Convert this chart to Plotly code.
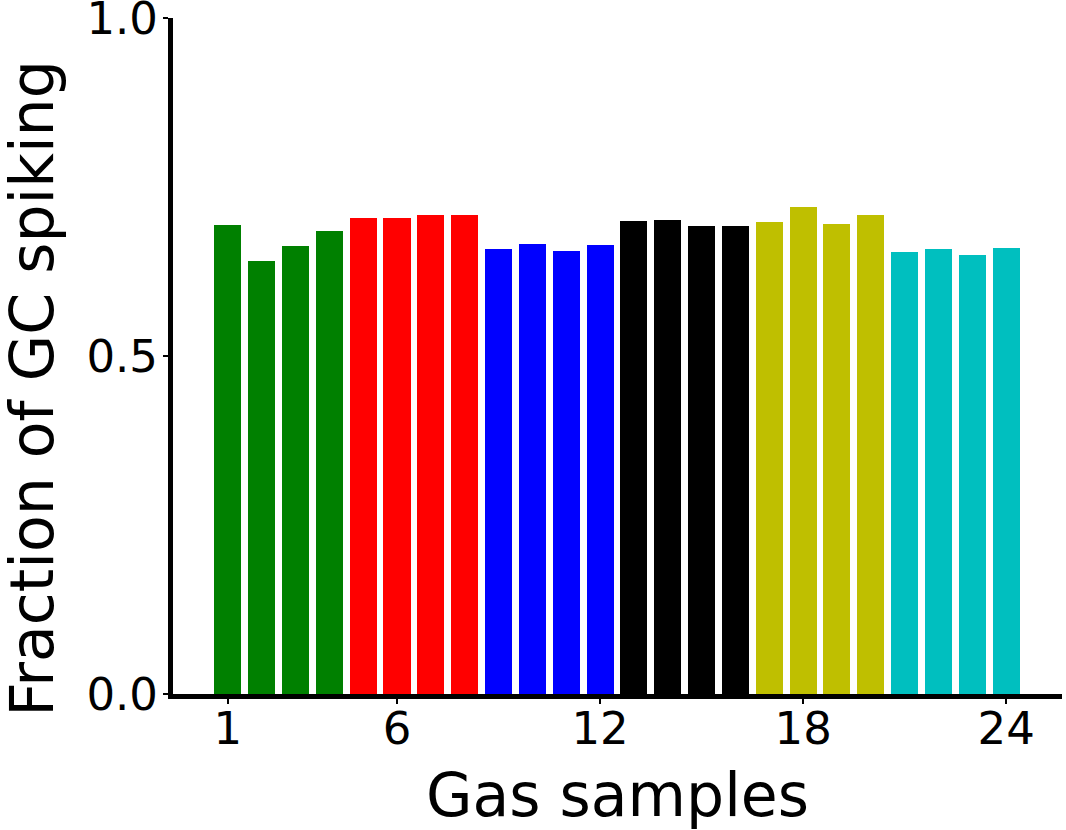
import plotly.graph_objects as go

samples = list(range(1, 25))
fractions = [0.694, 0.641, 0.662, 0.685, 0.704, 0.704, 0.709, 0.708,
             0.658, 0.666, 0.655, 0.664, 0.699, 0.701, 0.693, 0.692,
             0.698, 0.720, 0.695, 0.708, 0.654, 0.658, 0.649, 0.660]
group_colors = ["#008000", "#ff0000", "#0000ff", "#000000", "#bfbf00", "#00bfbf"]
colors = [group_colors[(s - 1) // 4] for s in samples]
xtick_vals = [1, 6, 12, 18, 24]
ytick_vals = [0.0, 0.5, 1.0]
ytick_text = ["0.0", "0.5", "1.0"]
x_title = "Gas samples"
y_title = "Fraction of GC spiking"

fig = go.Figure(go.Bar(x=samples, y=fractions, marker=dict(color=colors, line=dict(width=0)),
                       width=0.8))

fig.update_layout(
    width=1066, height=830,
    margin=dict(l=173, r=4, t=18, b=136),
    plot_bgcolor="white", paper_bgcolor="white",
    font=dict(family="DejaVu Sans", color="black"),
    showlegend=False,
    bargap=0,
)
fig.update_xaxes(
    range=[-0.62, 25.65], tickvals=xtick_vals, ticktext=[str(v) for v in xtick_vals],
    tickfont=dict(size=45), ticks="outside", ticklen=5, tickwidth=2, tickcolor="black",
    showline=True, linecolor="black", linewidth=5, showgrid=False, zeroline=False,
    ticklabelstandoff=-14, automargin=False,
)
fig.update_yaxes(
    range=[0, 1], tickvals=ytick_vals, ticktext=ytick_text,
    tickfont=dict(size=45), ticks="outside", ticklen=5, tickwidth=2, tickcolor="black",
    showline=True, linecolor="black", linewidth=5, showgrid=False, zeroline=False,
    ticklabelstandoff=-4, ticklabeloverflow="allow", automargin=False,
)
fig.add_annotation(text=x_title, xref="paper", yref="paper", x=0.5005, y=-0.149,
                   xanchor="center", yanchor="middle", showarrow=False,
                   font=dict(size=60, family="DejaVu Sans", color="black"))
fig.add_annotation(text=y_title, xref="paper", yref="paper", x=-0.159, y=0.451,
                   xanchor="center", yanchor="middle", textangle=-90, showarrow=False,
                   font=dict(size=60, family="DejaVu Sans", color="black"))

fig.write_html("out.html")
